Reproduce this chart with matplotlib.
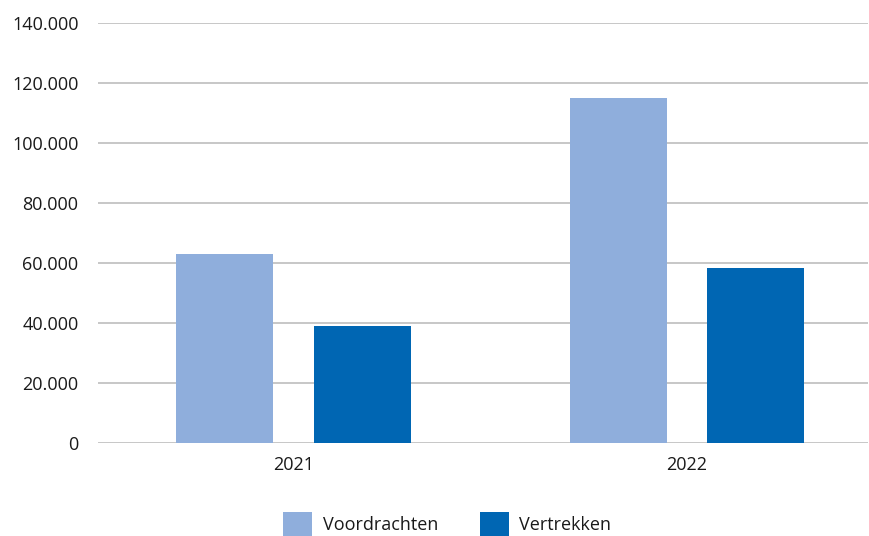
import matplotlib
matplotlib.use("Agg")
import matplotlib.pyplot as plt
from matplotlib.ticker import FuncFormatter

years = ["2021", "2022"]
voordrachten = [63000, 115000]
vertrekken = [39200, 58300]
series_names = ["Voordrachten", "Vertrekken"]
colors = ["#8FAEDC", "#0066B3"]
y_ticks = [0, 20000, 40000, 60000, 80000, 100000, 120000, 140000]

plt.rcParams["font.family"] = ["Open Sans", "DejaVu Sans"]
plt.rcParams["font.size"] = 13
text_color = "#1a1a1a"

fig = plt.figure(figsize=(8.7, 5.36), dpi=100)
ax = fig.add_axes([0.1126, 0.1729, 0.8851, 0.7842])

x = list(range(len(years)))
width = 0.2465
offset = 0.1753
ax.bar([i - offset for i in x], voordrachten, width, color=colors[0],
       label=series_names[0], zorder=3)
ax.bar([i + offset for i in x], vertrekken, width, color=colors[1],
       label=series_names[1], zorder=3)

ax.set_ylim(0, 140000)
ax.set_xlim(-0.497, 1.46)
ax.set_yticks(y_ticks)
ax.yaxis.set_major_formatter(
    FuncFormatter(lambda v, _: f"{int(v):,}".replace(",", ".")))
ax.set_xticks(x)
ax.set_xticklabels(years)

ax.grid(axis="y", color="#BEBEBE", linewidth=1.2, zorder=0)
ax.set_axisbelow(True)
for s in ax.spines.values():
    s.set_visible(False)
ax.tick_params(axis="y", length=0, pad=14, colors=text_color, labelsize=13)
ax.tick_params(axis="x", length=0, pad=9, colors=text_color, labelsize=13)

fig.legend(loc="center", bbox_to_anchor=(0.514, 0.022), ncol=2,
           frameon=False, fontsize=13, handlelength=1.6, handleheight=1.75,
           handletextpad=0.6, columnspacing=2.3, labelcolor=text_color)

fig.savefig("out.png", dpi=100)
